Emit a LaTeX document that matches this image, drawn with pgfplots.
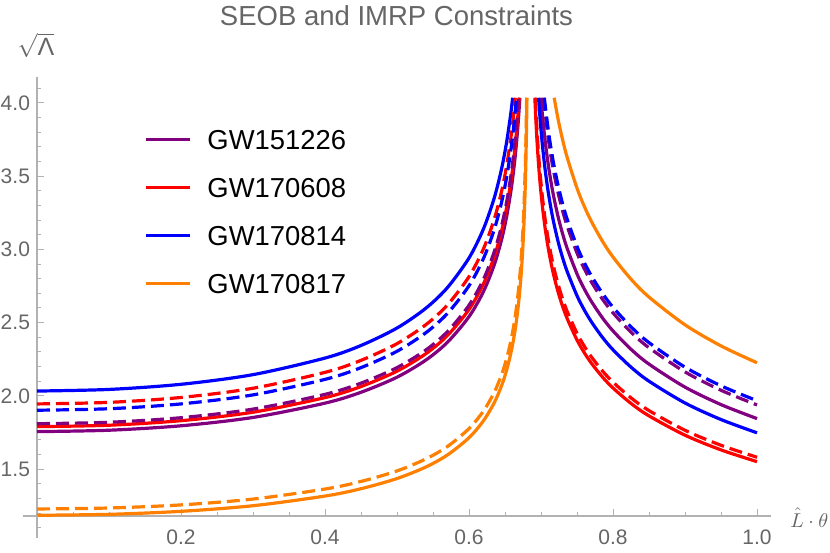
\documentclass[border=0pt]{standalone}
\usepackage{pgfplots}
\pgfplotsset{compat=1.18}
\usepackage{fontspec}
\setmainfont{Liberation Sans}
\definecolor{mpurple}{rgb}{0.5,0,0.5}
\definecolor{mred}{rgb}{1,0,0}
\definecolor{mblue}{rgb}{0,0,1}
\definecolor{morange}{rgb}{1,0.5,0}
\definecolor{labgray}{gray}{0.4}
\definecolor{axgray}{gray}{0.7}
\begin{document}
\begin{tikzpicture}
\begin{axis}[
  scale only axis, width=366.84pt, height=219.38pt,
  xmin=0, xmax=1.019, ymin=1.18, ymax=4.175,
  axis x line=bottom, axis y line=left,
  axis line style={-, draw=axgray, line width=0.6pt},
  xtick={0.2,0.4,0.6,0.8,1.0},
  xticklabels={0.2,0.4,0.6,0.8,1.0},
  minor xtick={0.05,0.1,0.15,0.25,0.3,0.35,0.45,0.5,0.55,0.65,0.7,0.75,0.85,0.9,0.95},
  ytick={1.5,2,2.5,3,3.5,4},
  yticklabels={1.5,2.0,2.5,3.0,3.5,4.0},
  minor ytick={1.2,1.3,1.4,1.6,1.7,1.8,1.9,2.1,2.2,2.3,2.4,2.6,2.7,2.8,2.9,3.1,3.2,3.3,3.4,3.6,3.7,3.8,3.9,4.1},
  tick style={draw=axgray, line width=0.5pt},
  major tick length=3.5pt, minor tick length=2pt,
  tick align=inside,
  ticklabel style={font=\fontsize{10.5}{12}\selectfont, text=labgray},
  xticklabel style={yshift=-3.5pt},
  clip=false,
  every axis plot/.append style={line width=1.6pt},
  legend cell align=left,
  legend style={draw=none, fill=none, at={(axis cs:0.1490,3.822)}, anchor=north west,
    inner sep=0pt, row sep=14pt, column sep=7.8pt,
    font=\fontsize{13.7}{16}\selectfont,
    nodes={inner sep=0pt, text height=10pt, text depth=0pt}},
  legend image code/.code={\draw[#1] (0pt,0pt) -- (22pt,0pt);},
]
% ================= solid, left branches (legend) =================
\addplot[mpurple, smooth] table {
x y
0 1.756
0.1 1.7655
0.2 1.7958
0.3 1.8527
0.4 1.9504
0.45 2.0246
0.5 2.1275
0.54 2.2441
0.57 2.3658
0.6 2.5405
0.62 2.7112
0.635 2.8936
0.645 3.0619
0.652 3.2175
0.658 3.3915
0.662 3.5399
0.665 3.6769
0.668 3.8463
0.670 3.9849
0.6706 4.035
};
\addlegendentry{GW151226}
\addplot[mred, smooth] table {
x y
0 1.79
0.1 1.7997
0.2 1.8306
0.3 1.8885
0.4 1.9882
0.45 2.0638
0.5 2.1687
0.54 2.2876
0.57 2.4116
0.6 2.5897
0.62 2.7637
0.635 2.9497
0.645 3.1212
0.652 3.2798
0.658 3.4571
0.662 3.6085
0.665 3.7481
0.668 3.9207
0.6696 4.035
};
\addlegendentry{GW170608}
\addplot[mblue, smooth] table {
x y
0 2.033
0.1 2.0440
0.2 2.0791
0.3 2.1449
0.4 2.2581
0.45 2.3440
0.5 2.4631
0.54 2.5981
0.57 2.7390
0.6 2.9412
0.62 3.1389
0.635 3.3501
0.645 3.5449
0.652 3.7251
0.658 3.9265
0.6606 4.035
};
\addlegendentry{GW170814}
\addplot[morange, smooth] table {
x y
0 1.185
0.1 1.1914
0.2 1.2119
0.3 1.2502
0.4 1.3162
0.45 1.3663
0.5 1.4357
0.54 1.5144
0.57 1.5965
0.6 1.7144
0.62 1.8296
0.635 1.9527
0.645 2.0662
0.652 2.1713
0.658 2.2887
0.662 2.3888
0.665 2.4813
0.668 2.5956
0.670 2.6891
0.672 2.8028
0.674 2.9459
0.676 3.1357
0.678 3.4096
0.679 3.6045
0.680 3.8725
0.68045 4.035
};
\addlegendentry{GW170817}
% ================= solid, right branches =================
\addplot[mpurple, smooth, forget plot] table {
x y
0.6999 4.035
0.702 3.9150
0.706 3.7297
0.711 3.5476
0.717 3.3758
0.725 3.1976
0.735 3.0260
0.75 2.8327
0.76 2.7311
0.77 2.6445
0.785 2.5348
0.8 2.4432
0.825 2.3180
0.85 2.2168
0.9 2.0597
0.95 1.9405
1.0 1.845
};
\addplot[mred, smooth, forget plot] table {
x y
0.6915 4.035
0.693 3.8704
0.695 3.6966
0.697 3.5555
0.699 3.4375
0.702 3.2912
0.706 3.1354
0.711 2.9823
0.717 2.8379
0.725 2.6880
0.735 2.5438
0.75 2.3813
0.76 2.2959
0.77 2.2231
0.785 2.1309
0.8 2.0538
0.825 1.9486
0.85 1.8635
0.9 1.7315
0.95 1.6313
1.0 1.551
};
\addplot[mblue, smooth, forget plot] table {
x y
0.6966 4.035
0.699 3.8741
0.702 3.7092
0.706 3.5336
0.711 3.3610
0.717 3.1984
0.725 3.0295
0.735 2.8669
0.75 2.6838
0.76 2.5875
0.77 2.5055
0.785 2.4016
0.8 2.3147
0.825 2.1961
0.85 2.1002
0.9 1.9514
0.95 1.8385
1.0 1.748
};
\addplot[morange, smooth, forget plot] table {
x y
0.7183 4.035
0.725 3.8579
0.735 3.6508
0.75 3.4177
0.76 3.2951
0.77 3.1906
0.785 3.0583
0.8 2.9477
0.825 2.7967
0.85 2.6745
0.9 2.4850
0.95 2.3412
1.0 2.226
};
% ================= dashed, left branches =================
\addplot[mpurple, smooth, dash pattern=on 6.5pt off 3pt, forget plot] table {
x y
0 1.81
0.1 1.8198
0.2 1.8510
0.3 1.9096
0.4 2.0104
0.45 2.0869
0.5 2.1930
0.54 2.3131
0.57 2.4385
0.6 2.6186
0.62 2.7946
0.635 2.9826
0.645 3.1560
0.652 3.3165
0.658 3.4958
0.662 3.6488
0.665 3.7900
0.668 3.9646
0.6690 4.035
};
\addplot[mred, smooth, dash pattern=on 6.5pt off 3pt, forget plot] table {
x y
0 1.945
0.1 1.9556
0.2 1.9891
0.3 2.0521
0.4 2.1604
0.45 2.2425
0.5 2.3565
0.54 2.4856
0.57 2.6204
0.6 2.8139
0.62 3.0030
0.635 3.2051
0.645 3.3914
0.652 3.5638
0.658 3.7565
0.662 3.9209
0.6643 4.035
};
\addplot[mblue, smooth, dash pattern=on 6.5pt off 3pt, forget plot] table {
x y
0 1.902
0.1 1.9123
0.2 1.9451
0.3 2.0067
0.4 2.1126
0.45 2.1929
0.5 2.3044
0.54 2.4307
0.57 2.5625
0.6 2.7517
0.62 2.9367
0.635 3.1342
0.645 3.3164
0.652 3.4850
0.658 3.6735
0.662 3.8342
0.665 3.9827
0.6659 4.035
};
\addplot[morange, smooth, dash pattern=on 6.5pt off 3pt, forget plot] table {
x y
0 1.228
0.1 1.2347
0.2 1.2558
0.3 1.2956
0.4 1.3640
0.45 1.4158
0.5 1.4878
0.54 1.5693
0.57 1.6544
0.6 1.7766
0.62 1.8960
0.635 2.0236
0.645 2.1412
0.652 2.2501
0.658 2.3717
0.662 2.4755
0.665 2.5713
0.668 2.6898
0.670 2.7867
0.672 2.9045
0.674 3.0528
0.676 3.2495
0.678 3.5333
0.679 3.7353
0.68006 4.035
};
% ================= dashed, right branches =================
\addplot[mpurple, smooth, dash pattern=on 6.5pt off 3pt, forget plot] table {
x y
0.7035 4.035
0.706 3.9177
0.711 3.7264
0.717 3.5460
0.725 3.3587
0.735 3.1785
0.75 2.9755
0.76 2.8688
0.77 2.7778
0.785 2.6626
0.8 2.5663
0.825 2.4348
0.85 2.3285
0.9 2.1635
0.95 2.0383
1.0 1.938
};
\addplot[mred, smooth, dash pattern=on 6.5pt off 3pt, forget plot] table {
x y
0.6921 4.035
0.693 3.9452
0.695 3.7680
0.697 3.6243
0.699 3.5040
0.702 3.3548
0.706 3.1960
0.711 3.0399
0.717 2.8928
0.725 2.7400
0.735 2.5930
0.75 2.4274
0.76 2.3403
0.77 2.2661
0.785 2.1721
0.8 2.0936
0.825 1.9863
0.85 1.8996
0.9 1.7650
0.95 1.6628
1.0 1.581
};
\addplot[mblue, smooth, dash pattern=on 6.5pt off 3pt, forget plot] table {
x y
0.7047 4.035
0.706 3.9764
0.711 3.7821
0.717 3.5991
0.725 3.4090
0.735 3.2261
0.75 3.0201
0.76 2.9117
0.77 2.8193
0.785 2.7025
0.8 2.6047
0.825 2.4713
0.85 2.3633
0.9 2.1959
0.95 2.0688
1.0 1.967
};
% axis extensions (Mathematica-style axes crossing)
\coordinate (O) at (axis cs:0,1.18);
\draw[axgray, line width=0.6pt] (axis cs:0,1.18) -- (axis cs:0,1.03);
\draw[axgray, line width=0.6pt] (axis cs:-0.019,1.18) -- (axis cs:0,1.18);
\draw[axgray, line width=0.5pt] (axis cs:0,1.1) -- ++(2pt,0pt);
\end{axis}
\node[anchor=base, text=labgray, font=\fontsize{13.75}{16}\selectfont] at ([shift={(179.75pt,245pt)}]O) {SEOB and IMRP Constraints};
\node[anchor=south, text=labgray, inner sep=0pt] at ([shift={(-0.5pt,229pt)}]O) {\fontsize{12.5}{14}\selectfont$\sqrt{\mbox{Λ}}$};
\node[anchor=base west, text=labgray, inner sep=0pt] at ([shift={(376.5pt,-5.5pt)}]O) {\fontsize{10}{12}\selectfont$\hat{L}\cdot\theta$};
\pgfresetboundingbox
\useasboundingbox ([shift={(-18.5pt,-18pt)}]O) rectangle ([shift={(396.5pt,258pt)}]O);
\end{tikzpicture}
\end{document}
